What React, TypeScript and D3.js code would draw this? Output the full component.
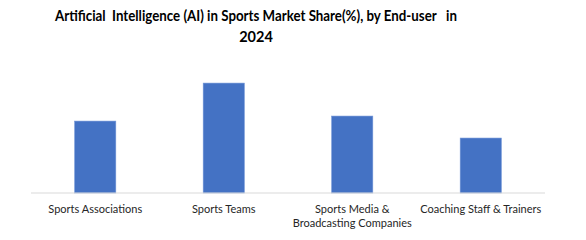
import React, { useEffect, useRef } from "react";
import * as d3 from "d3";

const titleLines = ["Artificial  Intelligence (AI) in Sports Market Share(%), by End-user   in", "2024"];
const categories = ["Sports Associations", "Sports Teams", "Sports Media & Broadcasting Companies", "Coaching Staff & Trainers"];
const values = [22.9, 35.0, 24.5, 17.5];

const W = 586;
const H = 240;

export default function App() {
  const ref = useRef<SVGSVGElement>(null);

  useEffect(() => {
    const svg = d3.select(ref.current);
    svg.selectAll("*").remove();

    const x = d3.scaleBand<string>().domain(categories).range([31, 545]).paddingInner(0.68).paddingOuter(0.34);
    const y = d3.scaleLinear().domain([0, 40]).range([193, 67.4]);

    const title = svg.append("text")
      .attr("text-anchor", "middle")
      .attr("font-family", "Lato, Carlito, Calibri, sans-serif")
      .attr("font-weight", "bold")
      .attr("font-size", 14.5)
      .attr("fill", "#000");
    titleLines.forEach((t, i) => {
      const ts = title.append("tspan").attr("x", 256).attr("y", 20.7 + i * 21).style("white-space", "pre").text(t);
      if (i === 0) ts.attr("textLength", 402).attr("lengthAdjust", "spacingAndGlyphs");
    });

    svg.append("g").selectAll("rect").data(values).join("rect")
      .attr("x", (_, i) => x(categories[i])!)
      .attr("width", x.bandwidth())
      .attr("y", d => y(d))
      .attr("height", d => y(0) - y(d))
      .attr("fill", "#4472C4")
      .attr("stroke", "#6f93d6")
      .attr("stroke-width", 0.6);

    svg.append("line")
      .attr("x1", 31).attr("x2", 545)
      .attr("y1", y(0)).attr("y2", y(0))
      .attr("stroke", "#d9d9d9").attr("stroke-width", 1);

    const step = x.step();
    const labels = svg.append("g")
      .attr("font-family", "Lato, Carlito, Calibri, sans-serif")
      .attr("font-size", 11)
      .attr("fill", "#262626")
      .attr("text-anchor", "middle");

    categories.forEach(c => {
      const cx = x(c)! + x.bandwidth() / 2;
      const t = labels.append("text").attr("x", cx).attr("y", 212.7);
      const words = c.split(" ");
      let line: string[] = [];
      let lineNo = 0;
      let tspan = t.append("tspan").attr("x", cx).attr("y", 212.7);
      for (const w of words) {
        line.push(w);
        tspan.text(line.join(" "));
        if ((tspan.node() as SVGTextContentElement).getComputedTextLength() > step && line.length > 1) {
          line.pop();
          tspan.text(line.join(" "));
          line = [w];
          lineNo++;
          tspan = t.append("tspan").attr("x", cx).attr("y", 212.7 + lineNo * 14).text(w);
        }
      }
    });
  }, []);

  return (
    <svg ref={ref} width={W} height={H} style={{ position: "absolute", left: 0, top: 0, background: "#fff" }} />
  );
}
